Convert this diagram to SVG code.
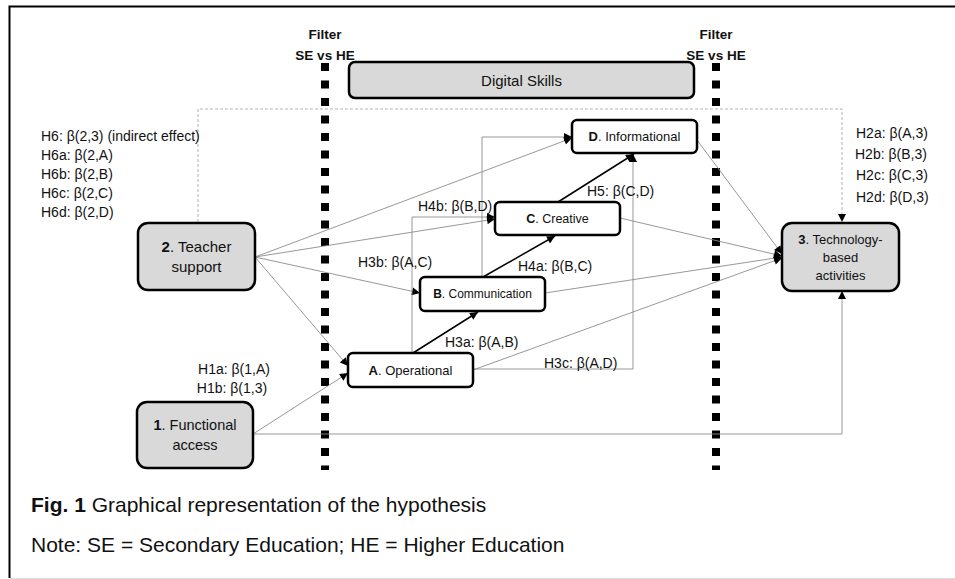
<svg xmlns="http://www.w3.org/2000/svg" width="955" height="579" viewBox="0 0 955 579">
<style>
text{font-family:"Liberation Sans",Arial,sans-serif;fill:#111}
.lbl{font-size:14px}
.filt{font-size:13.5px;font-weight:bold;text-anchor:middle}
.gnode{fill:#d9d9d9;stroke:#000;stroke-width:2.5}
.wnode{fill:#fff;stroke:#000;stroke-width:2.5}
.c{stroke:#8c8c8c;stroke-width:0.9;fill:none}
.k{stroke:#000;stroke-width:1.5;fill:none}
.filter{stroke:#000;stroke-width:8;stroke-dasharray:8 9.5;fill:none}
.ctr{text-anchor:middle}
</style>
<defs>
<marker id="ah" viewBox="0 0 10 10" refX="10" refY="5" markerWidth="9" markerHeight="8" markerUnits="userSpaceOnUse" orient="auto">
<path d="M0,0 L10,5 L0,10 z" fill="#000"/>
</marker>
</defs>
<rect width="955" height="579" fill="#fff"/>
<path d="M955,6.5 H9.5 V578" fill="none" stroke="#000" stroke-width="2"/>
<line x1="10" y1="578.5" x2="955" y2="578.5" stroke="#ddd" stroke-width="1"/>

<g id="filters">
<line class="filter" x1="325" y1="63" x2="325" y2="470"/>
<line class="filter" x1="716" y1="63" x2="716" y2="470"/>
<text class="filt" x="325" y="39">Filter</text>
<text class="filt" x="325" y="60">SE vs HE</text>
<text class="filt" x="716" y="39">Filter</text>
<text class="filt" x="716" y="60">SE vs HE</text>
</g>

<g id="connectors">
<path d="M198,222 V109 H842 V222" fill="none" stroke="#aaa" stroke-width="0.9" stroke-dasharray="3 2" marker-end="url(#ah)"/>
<path class="c" d="M255,257 L572,138" marker-end="url(#ah)"/>
<path class="c" d="M255,257 L495,219" marker-end="url(#ah)"/>
<path class="c" d="M255,257 L420,293" marker-end="url(#ah)"/>
<path class="c" d="M255,257 L348,366" marker-end="url(#ah)"/>
<path class="c" d="M253,434 L348,373" marker-end="url(#ah)"/>
<path class="c" d="M253,434 H842 V291" marker-end="url(#ah)"/>
<path class="c" d="M412,353 V217 H495" marker-end="url(#ah)"/>
<path class="c" d="M482,277 V137 H572" marker-end="url(#ah)"/>
<path class="c" d="M473,369 H633 V154" marker-end="url(#ah)"/>
<path class="c" d="M473,370 L782,258" marker-end="url(#ah)"/>
<path class="c" d="M545,293 L782,257" marker-end="url(#ah)"/>
<path class="c" d="M620,218 L782,256" marker-end="url(#ah)"/>
<path class="c" d="M697,140 L782,254" marker-end="url(#ah)"/>
<path class="k" d="M413,353 L478,312" marker-end="url(#ah)"/>
<path class="k" d="M483,277 L555,236" marker-end="url(#ah)"/>
<path class="k" d="M558,202 L634,154" marker-end="url(#ah)"/>
</g>

<g id="digital-skills">
<rect class="gnode" x="349" y="62" width="345" height="36" rx="6"/>
<text x="521.5" y="86" class="ctr" font-size="15">Digital Skills</text>
</g>

<g id="node-teacher">
<rect class="gnode" x="138" y="223" width="117" height="67" rx="10"/>
<text x="196.5" y="252" class="ctr" font-size="15"><tspan font-weight="bold">2</tspan>. Teacher</text>
<text x="196.5" y="272" class="ctr" font-size="15">support</text>
</g>

<g id="node-functional">
<rect class="gnode" x="137" y="402" width="116" height="66" rx="10"/>
<text x="195" y="430" class="ctr" font-size="14.5"><tspan font-weight="bold">1</tspan>. Functional</text>
<text x="195" y="450" class="ctr" font-size="14.5">access</text>
</g>

<g id="node-tech">
<rect class="gnode" x="782" y="223" width="117" height="68" rx="10"/>
<text x="840.5" y="244" class="ctr" font-size="13"><tspan font-weight="bold">3</tspan>. Technology-</text>
<text x="840.5" y="262" class="ctr" font-size="13">based</text>
<text x="840.5" y="280" class="ctr" font-size="13">activities</text>
</g>

<g id="node-A">
<rect class="wnode" x="348" y="353" width="125" height="34" rx="5"/>
<text x="410.5" y="375" class="ctr" font-size="13"><tspan font-weight="bold">A</tspan>. Operational</text>
</g>
<g id="node-B">
<rect class="wnode" x="420" y="277" width="125" height="34" rx="5"/>
<text x="482.5" y="298" class="ctr" font-size="12"><tspan font-weight="bold">B</tspan>. Communication</text>
</g>
<g id="node-C">
<rect class="wnode" x="495" y="202" width="125" height="33" rx="5"/>
<text x="557.5" y="223" class="ctr" font-size="12.5"><tspan font-weight="bold">C</tspan>. Creative</text>
</g>
<g id="node-D">
<rect class="wnode" x="572" y="120" width="125" height="33" rx="5"/>
<text x="634.5" y="141" class="ctr" font-size="13"><tspan font-weight="bold">D</tspan>. Informational</text>
</g>

<g id="labels" class="lbl">
<text class="lbl" x="41" y="141">H6: β(2,3) (indirect effect)</text>
<text class="lbl" x="41" y="160">H6a: β(2,A)</text>
<text class="lbl" x="41" y="179">H6b: β(2,B)</text>
<text class="lbl" x="41" y="198">H6c: β(2,C)</text>
<text class="lbl" x="41" y="217">H6d: β(2,D)</text>
<text class="lbl" x="856" y="138">H2a: β(A,3)</text>
<text class="lbl" x="855" y="159">H2b: β(B,3)</text>
<text class="lbl" x="856" y="180">H2c: β(C,3)</text>
<text class="lbl" x="856" y="202">H2d: β(D,3)</text>
<text class="lbl ctr" x="234" y="374">H1a: β(1,A)</text>
<text class="lbl ctr" x="232" y="393">H1b: β(1,3)</text>
<text class="lbl" x="445" y="347">H3a: β(A,B)</text>
<text class="lbl" x="544" y="368">H3c: β(A,D)</text>
<text class="lbl" x="358" y="267">H3b: β(A,C)</text>
<text class="lbl" x="418" y="211">H4b: β(B,D)</text>
<text class="lbl" x="518" y="271">H4a: β(B,C)</text>
<text class="lbl" x="587" y="196">H5: β(C,D)</text>
</g>

<g id="caption">
<text x="31" y="512" font-size="21" fill="#333"><tspan font-weight="bold" fill="#111">Fig. 1</tspan> Graphical representation of the hypothesis</text>
<text x="31" y="552" font-size="21" fill="#333">Note: SE = Secondary Education; HE = Higher Education</text>
</g>
</svg>
